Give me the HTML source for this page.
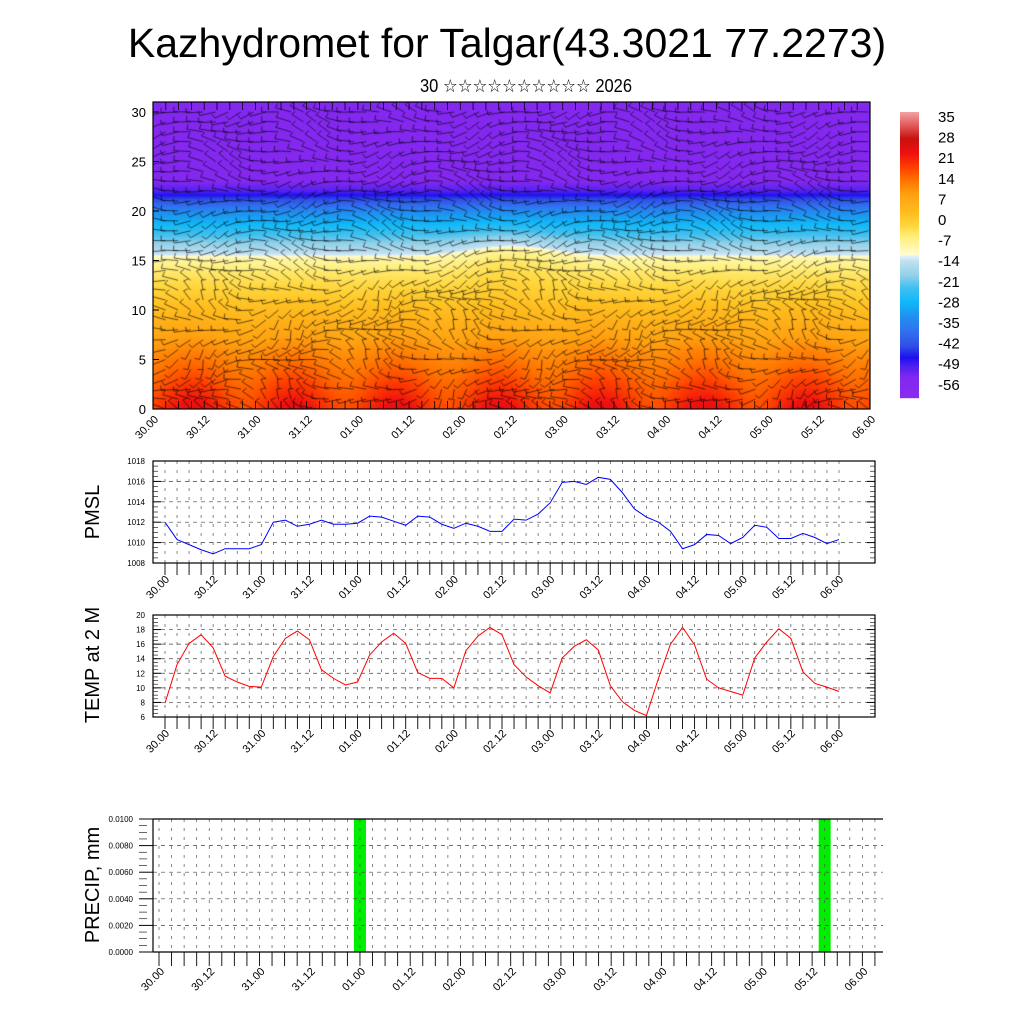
<!DOCTYPE html>
<html><head><meta charset="utf-8"><style>
body{margin:0;background:#fff;width:1024px;height:1024px;overflow:hidden;position:relative;font-family:"Liberation Sans","DejaVu Sans",sans-serif}
#field{position:absolute;left:153px;top:102px}
#svg{position:absolute;left:0;top:0}
</style></head><body>
<canvas id="field" width="717" height="307"></canvas>
<svg id="svg" width="1024" height="1024" xmlns="http://www.w3.org/2000/svg">
<text x="507" y="57" text-anchor="middle" font-size="41">Kazhydromet for Talgar(43.3021 77.2273)</text>
<text x="526" y="92" text-anchor="middle" font-size="18" textLength="212" lengthAdjust="spacingAndGlyphs">30 ☆☆☆☆☆☆☆☆☆☆ 2026</text>
<text transform="translate(99,512) rotate(-90)" text-anchor="middle" font-size="20">PMSL</text>
<text transform="translate(99,665) rotate(-90)" text-anchor="middle" font-size="20">TEMP at 2 M</text>
<text transform="translate(99,885) rotate(-90)" text-anchor="middle" font-size="20">PRECIP, mm</text>
<g id="g"></g>
</svg>
<script>
// ---- data ----
const timeLabels=["30.00","30.12","31.00","31.12","01.00","01.12","02.00","02.12","03.00","03.12","04.00","04.12","05.00","05.12","06.00"];
const pmsl=[1012.0,1010.3,1009.8,1009.3,1008.9,1009.4,1009.4,1009.4,1009.8,1012.0,1012.2,1011.6,1011.8,1012.2,1011.8,1011.8,1011.9,1012.6,1012.5,1012.1,1011.7,1012.6,1012.5,1011.8,1011.4,1011.9,1011.6,1011.1,1011.1,1012.3,1012.2,1012.8,1013.9,1015.9,1016.0,1015.7,1016.4,1016.2,1014.9,1013.3,1012.5,1012.0,1011.1,1009.4,1009.8,1010.8,1010.7,1009.9,1010.5,1011.7,1011.5,1010.4,1010.4,1010.9,1010.5,1009.9,1010.3];
const temp2m=[7.9,13.2,16.1,17.3,15.5,11.6,10.8,10.2,10.1,14.3,16.8,17.8,16.6,12.5,11.3,10.4,10.8,14.5,16.3,17.5,16.1,12.1,11.3,11.3,10.0,15.1,17.1,18.3,17.3,13.2,11.5,10.3,9.3,14.1,15.7,16.6,15.2,10.3,8.1,6.9,6.2,11.3,16.0,18.3,15.9,11.2,10.0,9.5,9.0,14.1,16.3,18.1,16.8,12.2,10.6,10.1,9.5];
const precip=[];for(let i=0;i<57;i++)precip.push(0);precip[16]=0.012;precip[53]=0.012;
const pmslTicks=[1008,1010,1012,1014,1016,1018];
const tempTicks=[6,8,10,12,14,16,18,20];
const precipTicks=["0.0000","0.0020","0.0040","0.0060","0.0080","0.0100"];
const cbLabels=[35,28,21,14,7,0,-7,-14,-21,-28,-35,-42,-49,-56];
const levelTicks=[0,5,10,15,20,25,30];

const NS="http://www.w3.org/2000/svg";const G=document.getElementById('g');
function el(t,a,p){const e=document.createElementNS(NS,t);for(const k in a)e.setAttribute(k,a[k]);(p||G).appendChild(e);return e;}

const cstops=[[-63,[138,43,240]],[-56,[132,40,240]],[-52,[80,32,240]],[-49,[30,16,240]],[-45,[48,80,230]],[-40,[48,112,240]],[-35,[32,144,240]],[-30,[16,184,248]],[-25,[64,192,240]],[-21,[144,208,232]],[-16,[192,224,240]],[-14.2,[228,242,248]],[-13.8,[255,252,210]],[-8,[255,240,128]],[-4,[255,216,64]],[0,[255,192,32]],[7,[255,160,16]],[12,[255,112,0]],[16,[255,64,0]],[21,[240,16,16]],[26,[200,16,16]],[30,[224,80,80]],[35,[240,160,160]]];
function cmap(v){if(v<=cstops[0][0])return cstops[0][1];for(let i=1;i<cstops.length;i++){if(v<=cstops[i][0]){const a=cstops[i-1],b=cstops[i],t=(v-a[0])/(b[0]-a[0]);return a[1].map((c,j)=>Math.round(c+(b[1][j]-c)*t));}}return cstops[cstops.length-1][1];}

// ---- top field ----
const TX0=153,TX1=870,TY0=409,pxU=9.9;
const profL=[0,3,6,9,12,14,15.3,15.6,17,18.5,20,21.2,22,23,31];
const profT=[19,14,9,3,-3,-7,-11,-15,-22,-29,-36,-45,-52,-56,-56];
function prof(L){for(let i=1;i<profL.length;i++)if(L<=profL[i]){const t=(L-profL[i-1])/(profL[i]-profL[i-1]);return profT[i-1]+(profT[i]-profT[i-1])*t;}return -56;}
(function(){const c=document.getElementById('field').getContext('2d');const W=717,H=307;const img=c.createImageData(W,H);
for(let y=0;y<H;y++){for(let x=0;x<W;x++){const L=(TY0-102-y)/pxU;const day=x/102.4;
const diur=Math.sin(2*Math.PI*(day-0.125))*4*Math.exp(-L/4);
const bump=-1.2*Math.exp(-Math.pow((day-3.5)/0.5,2))*Math.exp(-Math.pow((L-15)/3,2))*6;
const v=prof(L+bump/6)+diur;const col=cmap(v);const i=(y*W+x)*4;img.data[i]=col[0];img.data[i+1]=col[1];img.data[i+2]=col[2];img.data[i+3]=255;}}
c.putImageData(img,0,0);
c.strokeStyle='rgba(0,0,0,0.8)';c.lineWidth=0.75;
for(let yi=0;yi<=30;yi++){for(let xi=0;xi<=57;xi++){const x=xi*12.55,y=H-yi*pxU;
const a=Math.PI+0.5*Math.sin(xi*0.7+yi*0.4)+0.8*Math.sin(xi*0.23-yi*0.5)*(yi<14?1.3:0.6);
const len=17;const ex=x+Math.cos(a)*len,ey=y+Math.sin(a)*len*0.6;
c.beginPath();c.moveTo(x,y);c.lineTo(ex,ey);c.lineTo(ex+Math.cos(a+1.6)*5,ey+Math.sin(a+1.6)*5);c.stroke();}}
})();
el('rect',{x:TX0,y:102,width:TX1-TX0,height:307,fill:'none',stroke:'#000','stroke-width':1.2,});
levelTicks.forEach(v=>{const y=TY0-v*pxU;const t=el('text',{x:146,y:y+5,'text-anchor':'end','font-size':13});t.textContent=v;
el('line',{x1:TX0,x2:TX0+6,y1:y,y2:y,stroke:'#000'});});
for(let i=0;i<=56;i++){const x=TX0+i*(TX1-TX0)/56;el('line',{x1:x,x2:x,y1:TY0,y2:TY0-8,stroke:'#000','stroke-width':0.8});el('line',{x1:x,x2:x,y1:102,y2:110,stroke:'#000','stroke-width':0.8});}
timeLabels.forEach((s,i)=>{const x=TX0+i*(TX1-TX0)/14;const t=el('text',{transform:`translate(${x+6},${420}) rotate(-45)`,'text-anchor':'end','font-size':11});t.textContent=s;});
// colorbar
const cb=el('g',{});
for(let y=112;y<398;y++){const v=35-(y-112)/(398-112)*98;const col=cmap(v);el('rect',{x:900,y:y,width:19,height:1.2,fill:`rgb(${col})`},cb);}
cbLabels.forEach((v,i)=>{const t=el('text',{x:938,y:122+i*20.6,'font-size':15},cb);t.textContent=v;});

// ---- line charts ----
function lineChart(o){
const {x0,x1,y0,y1,left,right,vmin,vmax,ticks,vals,color,name,minor}=o;
const sx=i=>left+i*(right-left)/56, sy=v=>y1-(v-vmin)/(vmax-vmin)*(y1-y0);
const g=el('g',{});
ticks.forEach(v=>{const y=sy(v);el('line',{x1:x0,x2:x1,y1:y,y2:y,stroke:'#444','stroke-dasharray':'4,4','stroke-width':0.7},g);
el('line',{x1:x0,x2:x0+8,y1:y,y2:y,stroke:'#000'},g);el('line',{x1:x1-8,x2:x1,y1:y,y2:y,stroke:'#000'},g);
const t=el('text',{x:x0-8,y:y+3,'text-anchor':'end','font-size':8},g);t.textContent=v;});
for(let k=0;k<ticks.length-1;k++)for(let m=1;m<minor;m++){const v=ticks[k]+(ticks[k+1]-ticks[k])*m/minor,y=sy(v);el('line',{x1:x0,x2:x0+5,y1:y,y2:y,stroke:'#000','stroke-width':0.6},g);el('line',{x1:x1-5,x2:x1,y1:y,y2:y,stroke:'#000','stroke-width':0.6},g);}
for(let i=0;i<=56;i++){const x=sx(i);el('line',{x1:x,x2:x,y1:y0,y2:y1,stroke:'#555','stroke-dasharray':'3,6','stroke-width':0.7},g);el('line',{x1:x,x2:x,y1:y1,y2:y1+12,stroke:'#000','stroke-width':0.9},g);}
timeLabels.forEach((s,i)=>{const x=sx(i*4);const t=el('text',{transform:`translate(${x+5},${y1+17}) rotate(-45)`,'text-anchor':'end','font-size':11},g);t.textContent=s;});
el('rect',{x:x0,y:y0,width:x1-x0,height:y1-y0,fill:'none',stroke:'#000','stroke-width':1.2},g);
const p=el('polyline',{points:vals.map((v,i)=>sx(i)+','+sy(v)).join(' '),fill:'none',stroke:color,'stroke-width':1},g);

}
lineChart({x0:153,x1:875,y0:461,y1:563,left:165,right:839,vmin:1008,vmax:1018,ticks:pmslTicks,vals:pmsl,color:'#0000ff',name:'pmsl-chart',minor:4});
lineChart({x0:153,x1:875,y0:615,y1:717,left:165,right:839,vmin:6,vmax:20,ticks:tempTicks,vals:temp2m,color:'#ff0000',name:'temp-chart',minor:4});

// ---- precip ----
(function(){const x0=153,x1=883,y0=819,y1=952,left=159,step=12.56,vmax=0.01;
const sx=i=>left+i*step, sy=v=>y1-Math.min(v,vmax)/vmax*(y1-y0);
const g=el('g',{});
precip.forEach((v,i)=>{if(v>0){const r=el('rect',{x:sx(i)-6,y:sy(v),width:12,height:y1-sy(v),fill:'#00ee00'},g);}});
precipTicks.forEach(s=>{const y=sy(parseFloat(s));el('line',{x1:x0,x2:x1,y1:y,y2:y,stroke:'#444','stroke-dasharray':'4,4','stroke-width':0.7},g);
el('line',{x1:x0-14,x2:x0,y1:y,y2:y,stroke:'#000'},g);const t=el('text',{x:x0-20,y:y+3,'text-anchor':'end','font-size':8},g);t.textContent=s;});
for(let k=0;k<5;k++)for(let m=1;m<4;m++){const y=sy(vmax*(k+m/4)/5);el('line',{x1:x0-14,x2:x0-6,y1:y,y2:y,stroke:'#000','stroke-width':0.6},g);}
for(let i=0;i<=57;i++){const x=sx(i);el('line',{x1:x,x2:x,y1:y0,y2:y1,stroke:'#555','stroke-dasharray':'3,6','stroke-width':0.7},g);el('line',{x1:x,x2:x,y1:y1,y2:y1+14,stroke:'#000','stroke-width':0.9},g);}
timeLabels.forEach((s,i)=>{const x=sx(i*4);const t=el('text',{transform:`translate(${x+6},${y1+20}) rotate(-45)`,'text-anchor':'end','font-size':11},g);t.textContent=s;});
el('line',{x1:x0,x2:x0,y1:y0,y2:y1,stroke:'#000','stroke-width':1.2},g);
el('line',{x1:x0,x2:x1,y1:y1,y2:y1,stroke:'#000','stroke-width':1.2},g);
el('line',{x1:x0,x2:x1,y1:y0,y2:y0,stroke:'#000','stroke-width':1.2},g);
})();
</script>
</body></html>
